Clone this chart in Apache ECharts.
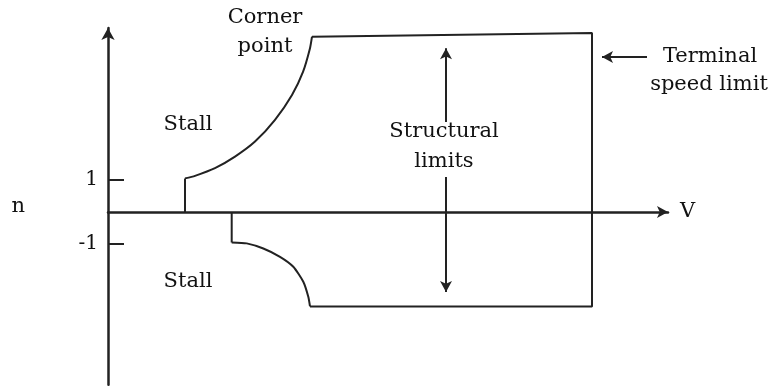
<!DOCTYPE html>
<html>
<head>
<meta charset="utf-8">
<script src="https://cdn.jsdelivr.net/npm/echarts@6/dist/echarts.min.js"></script>
<style>
  html, body { margin: 0; padding: 0; background: #fff; }
  #chart { width: 772px; height: 388px; }
</style>
</head>
<body>
<div id="chart"></div>
<script>
// V-n diagram, values (V in arbitrary units, n = load factor)
var vMax = 56;
var nMin = -5.4;
var nMax = 5.75;
var nTicks = [1, -1];

// positive stall curve (rises to the corner point)
var stallPosV = [7.7, 8.7, 10.7, 12.7, 14.7, 16.7, 18.4, 19.5, 20.2, 20.4];
var stallPosN = [1.05, 1.13, 1.37, 1.73, 2.2, 2.88, 3.66, 4.38, 5.12, 5.48];
// negative stall curve
var stallNegV = [12.37, 13.87, 15.53, 17.2, 18.53, 19.53, 20.03, 20.2];
var stallNegN = [-0.95, -0.98, -1.14, -1.4, -1.71, -2.18, -2.65, -2.95];
// straight edges of the envelope
var edgeStartV = [7.7, 7.7];
var edgeStartN = [0, 1.05];
var edgeBoxV = [20.4, 48.4, 48.4, 20.2];
var edgeBoxN = [5.48, 5.59, -2.95, -2.95];
var edgeEndV = [12.37, 12.37];
var edgeEndN = [0, -0.95];

// annotation arrows [from, to]
var terminalArrow = [[53.9, 4.84], [49.4, 4.84]];
var structUp = [[33.8, 2.81], [33.8, 5.12]];
var structDown = [[33.8, 1.09], [33.8, -2.5]];

function pairs(xs, ys) {
  return xs.map(function (x, i) { return [x, ys[i]]; });
}

var ink = '#222';
var font = 'DejaVu Serif';

var myChart = echarts.init(document.getElementById('chart'));

function line(data, smooth) {
  return {
    type: 'line',
    data: data,
    smooth: smooth,
    symbol: 'none',
    lineStyle: { color: ink, width: 2 },
    silent: true
  };
}

function txt(s, x, y) {
  return {
    type: 'text',
    x: x, y: y,
    style: {
      text: s,
      font: '21px "' + font + '"',
      fill: '#111',
      align: 'center',
      verticalAlign: 'middle'
    }
  };
}

var arrows = line([], false);
arrows.markLine = {
  silent: true,
  symbol: ['none', 'arrow'],
  symbolSize: [9, 11],
  label: { show: false },
  lineStyle: { color: ink, width: 2, type: 'solid' },
  data: [
    [{ coord: terminalArrow[0] }, { coord: terminalArrow[1] }],
    [{ coord: structUp[0] }, { coord: structUp[1] }],
    [{ coord: structDown[0] }, { coord: structDown[1] }]
  ]
};

var option = {
  animation: false,
  backgroundColor: '#fff',
  grid: { left: 108, top: 28, right: 104, bottom: 3.2 },
  xAxis: {
    type: 'value',
    min: 0,
    max: vMax,
    name: 'V',
    nameLocation: 'end',
    nameGap: 12,
    nameTextStyle: { fontFamily: font, fontSize: 21, color: '#111' },
    axisLine: {
      onZero: true,
      symbol: ['none', 'arrow'],
      symbolSize: [9, 11],
      lineStyle: { color: ink, width: 2.5 }
    },
    axisTick: { show: false },
    axisLabel: { show: false },
    splitLine: { show: false }
  },
  yAxis: {
    type: 'value',
    min: nMin,
    max: nMax,
    name: 'n',
    nameLocation: 'middle',
    nameRotate: 0,
    nameGap: 83,
    nameTextStyle: { fontFamily: font, fontSize: 21, color: '#111' },
    axisLine: {
      symbol: ['none', 'arrow'],
      symbolSize: [10, 12],
      lineStyle: { color: ink, width: 2.5 }
    },
    axisTick: {
      inside: true,
      length: 16,
      customValues: nTicks,
      lineStyle: { color: ink, width: 2 }
    },
    axisLabel: {
      customValues: nTicks,
      margin: 10,
      fontFamily: font,
      fontSize: 20,
      color: '#111'
    },
    splitLine: { show: false }
  },
  graphic: [
    txt('Corner', 265, 18),
    txt('point', 265, 47),
    txt('Stall', 188, 125),
    txt('Stall', 188, 282),
    txt('Structural', 444, 132),
    txt('limits', 444, 162),
    txt('Terminal', 710, 57),
    txt('speed limit', 709, 85)
  ],
  series: [
    line(pairs(stallPosV, stallPosN), 0.2),
    line(pairs(stallNegV, stallNegN), 0.2),
    line(pairs(edgeStartV, edgeStartN), false),
    line(pairs(edgeBoxV, edgeBoxN), false),
    line(pairs(edgeEndV, edgeEndN), false),
    arrows
  ]
};

myChart.setOption(option);
</script>
</body>
</html>
